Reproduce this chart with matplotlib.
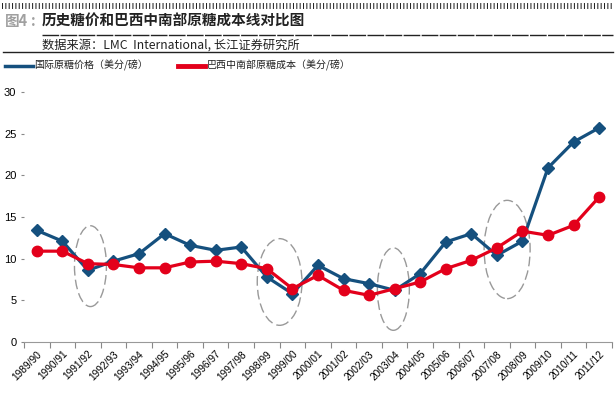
import numpy as np
import matplotlib
matplotlib.use('Agg')
import matplotlib.pyplot as plt
from matplotlib.lines import Line2D
from matplotlib.patches import Ellipse

plt.rcParams['font.family'] = ['Noto Sans CJK SC', 'DejaVu Sans']

#------------------------------------------------------------
# data (US cents / lb)
seasons = ['1989/90', '1990/91', '1991/92', '1992/93', '1993/94', '1994/95',
           '1995/96', '1996/97', '1997/98', '1998/99', '1999/00', '2000/01',
           '2001/02', '2002/03', '2003/04', '2004/05', '2005/06', '2006/07',
           '2007/08', '2008/09', '2009/10', '2010/11', '2011/12']
world_price = [13.4, 12.1, 8.6, 9.7, 10.6, 13.0, 11.6, 11.0, 11.4, 7.8, 5.8,
               9.2, 7.6, 7.0, 6.2, 8.2, 12.0, 13.0, 10.4, 12.1, 20.9, 24.0, 25.7]
brazil_cost = [10.9, 10.9, 9.4, 9.3, 8.9, 8.9, 9.6, 9.7, 9.4, 8.8, 6.4,
               8.0, 6.2, 5.6, 6.4, 7.2, 8.8, 9.8, 11.3, 13.3, 12.8, 14.0, 17.4]
# highlighted periods: (center index, center value, width, height)
circles = [(2.1, 9.1, 1.25, 9.7), (9.5, 7.2, 1.75, 10.4),
           (13.95, 6.35, 1.25, 9.9), (18.4, 11.1, 1.8, 11.8)]
y_ticks = [0, 5, 10, 15, 20, 25, 30]

blue = '#15507e'
red = '#e3001b'

fig = plt.figure(figsize=(6.15, 3.99), dpi=100)
ax = fig.add_axes([0.039, 0.1429, 0.956, 0.6265])

x = np.arange(len(seasons))
ax.plot(x, world_price, color=blue, lw=2.3, marker='D', ms=6.5, zorder=3)
ax.plot(x, brazil_cost, color=red, lw=2.3, marker='o', ms=7.5, zorder=4)

for cx, cy, w, h in circles:
    ax.add_patch(Ellipse((cx, cy), w, h, fill=False, ec='#999999', lw=1.0,
                         ls=(0, (7, 3)), zorder=2))

ax.set_xlim(-0.5, len(seasons) - 0.5)
ax.set_ylim(0, 30)
ax.set_yticks(y_ticks)
# boundaries get the tick marks, centres get the labels
ax.set_xticks(np.append(x - 0.5, len(seasons) - 0.5))
ax.set_xticklabels([''] * (len(seasons) + 1))
ax.set_xticks(x, minor=True)
ax.set_xticklabels(seasons, minor=True, rotation=45, ha='right',
                   rotation_mode='anchor', fontsize=7.3, family='Liberation Sans')
ax.tick_params(axis='x', which='major', length=4, color='#888888')
ax.tick_params(axis='x', which='minor', length=0, pad=5)
ax.tick_params(axis='y', length=2.5, color='#888888', labelsize=8, pad=3)
for lab in ax.get_yticklabels():
    lab.set_family('Liberation Sans')
for s in ['top', 'right', 'left']:
    ax.spines[s].set_visible(False)
ax.spines['bottom'].set_color('#999999')

#------------------------------------------------------------
# header decoration
fig.add_artist(Line2D([0.003, 0.997], [0.985, 0.985], lw=4.3, color='#222222',
                      ls=(0, (0.17, 0.39))))
fig.text(0.008, 0.947, '图4', fontsize=10.5, color='#a0a0a0',
         fontweight='bold', va='center')
fig.text(0.051, 0.947, ':', fontsize=10.5, color='#a0a0a0',
         fontweight='bold', va='center')
fig.text(0.068, 0.947, '历史糖价和巴西中南部原糖成本线对比图', fontsize=10.5,
         color='#222222', fontweight='bold', va='center')
fig.add_artist(Line2D([0.068, 0.997], [0.913, 0.913], lw=1.0, color='#222222',
                      ls=(0, (12, 1))))
fig.text(0.068, 0.888, '数据来源：LMC  International, 长江证券研究所', fontsize=8.8,
         color='#222222', va='center')
fig.add_artist(Line2D([0.005, 0.997], [0.87, 0.87], lw=1.0, color='#222222'))

# legend
fig.add_artist(Line2D([0.008, 0.053], [0.835, 0.835], lw=2.5, color=blue))
fig.text(0.055, 0.835, '国际原糖价格（美分/磅）', fontsize=7.2, color='#222222',
         va='center')
fig.add_artist(Line2D([0.29, 0.334], [0.835, 0.835], lw=3.5, color=red))
fig.text(0.336, 0.835, '巴西中南部原糖成本（美分/磅）', fontsize=7.2,
         color='#222222', va='center')

fig.savefig('out.png', dpi=100)
